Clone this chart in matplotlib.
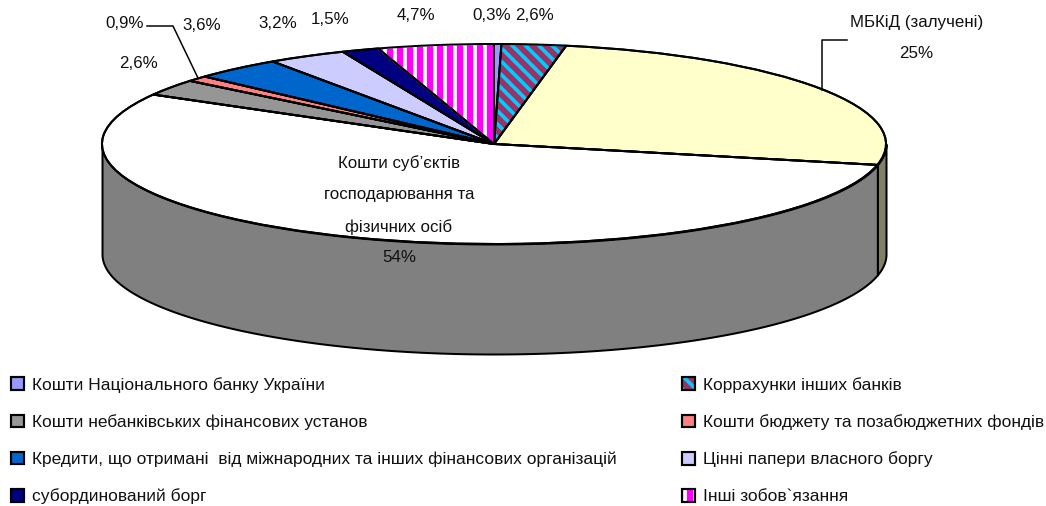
import numpy as np
import matplotlib
matplotlib.use('Agg')
import matplotlib.pyplot as plt
from matplotlib.legend_handler import HandlerTuple
from matplotlib.lines import Line2D
from matplotlib.patches import Patch

plt.rcParams['font.family'] = ['Liberation Sans', 'DejaVu Sans']
plt.rcParams['hatch.linewidth'] = 2.2

W, H = 1046, 506
DPI = 120
FS = 10.1
FS_LEGEND = 10.4

# slices, clockwise from the top
names = ['Кошти Національного банку України', 'Коррахунки інших банків', 'МБКіД (залучені)',
         'Кошти суб’єктів господарювання та фізичних осіб', 'Кошти небанківських фінансових установ',
         'Кошти бюджету та позабюджетних фондів',
         'Кредити, що отримані  від міжнародних та інших фінансових організацій',
         'Цінні папери власного боргу', 'субординований борг', 'Інші зобов`язання']
values = [0.3, 2.6, 25, 54, 2.6, 0.9, 3.6, 3.2, 1.5, 4.7]
colors = ['#9999FF', '#993366', '#FFFFCC', '#FFFFFF', '#969696',
          '#FF8080', '#0066CC', '#CCCCFF', '#000080', '#FF00FF']
legend_left = [0, 4, 6, 8]
legend_right = [1, 5, 7, 9]

# pixel geometry of the tilted pie
cx, cy, rx, ry = 494, 144, 392, 100
depth = 1.1


def fx(px):
    return px / W


def fy(py):
    return 1 - py / H


fig = plt.figure(figsize=(W / DPI, H / DPI), dpi=DPI)
ax = fig.add_axes([0, 0, 1, 1])

wedges, _ = ax.pie(values, colors=colors, startangle=90, counterclock=False,
                   wedgeprops={'linewidth': 1.2, 'edgecolor': 'black'})

# striped slices: the hatch takes the edge colour so the outline goes on top
hatches = {1: ('\\\\\\', '#00CCFF'), 9: ('||', '#FFFFFF')}
for i, (h, c) in hatches.items():
    wedges[i].set_hatch(h)
    wedges[i].set_edgecolor(c)
outline, _ = ax.pie(values, colors=['none'] * len(values), startangle=90, counterclock=False,
                    wedgeprops={'linewidth': 1.2, 'edgecolor': 'black', 'facecolor': 'none'})

# pie forces an equal aspect, squash it to the ellipse
ax.set_aspect('auto')
ax.set_xlim(-cx / rx, (W - cx) / rx)
ax.set_ylim((cy - H) / ry, cy / ry)
ax.axis('off')

# side wall, only the front part is seen
edges = np.cumsum(values) / np.sum(values) * 2 * np.pi


def wall(t0, t1, color):
    t = np.linspace(t0, t1, 200)
    x = np.sin(t)
    y = np.cos(t)
    ax.fill_between(x, y, y - depth, facecolor=color, edgecolor='black', linewidth=1.2, zorder=0)


wall(np.pi / 2, edges[2], '#808066')
wall(edges[2], 1.5 * np.pi, '#808080')

# value labels
pct = [f'{v}%'.replace('.', ',') for v in values]
label_pos = [(492, 15), (535, 15), (916, 53), (399, 258), (139, 64),
             (125, 23), (202, 26), (278, 23), (330, 19), (416, 16)]
for s, (px, py) in zip(pct, label_pos):
    fig.text(fx(px), fy(py), s, ha='center', va='center', fontsize=FS, color='#111111')

fig.text(fx(917), fy(22), names[2], ha='center', va='center', fontsize=FS, color='#111111')
subject_lines = ['Кошти суб’єктів', 'господарювання та', 'фізичних осіб']
for s, py in zip(subject_lines, [163, 195, 227]):
    fig.text(fx(399), fy(py), s, ha='center', va='center', fontsize=FS, color='#111111')

# leader lines
for xs, ys in [([147, 173, 198], [26, 26, 78]), ([847, 822, 822], [40, 40, 90])]:
    fig.add_artist(Line2D([fx(v) for v in xs], [fy(v) for v in ys], color='black', linewidth=0.9))


def legend_handle(i):
    border = Patch(facecolor='none', edgecolor='black', linewidth=1.3)
    if i in hatches:
        h, c = hatches[i]
        return (Patch(facecolor=colors[i], edgecolor=c, hatch=h, linewidth=0), border)
    return (Patch(facecolor=colors[i], edgecolor='none'), border)


def add_legend(idx, px):
    handles = [legend_handle(i) for i in idx]
    leg = fig.legend(handles, [names[i] for i in idx], loc='center left',
                     bbox_to_anchor=(fx(px), fy(440.5)), frameon=False, fontsize=FS_LEGEND,
                     handlelength=0.75, handleheight=0.75, handletextpad=0.45,
                     labelspacing=1.24, borderpad=0, borderaxespad=0, labelcolor='#111111',
                     handler_map={tuple: HandlerTuple(ndivide=1, pad=0)})
    return leg


add_legend(legend_left, 11)
add_legend(legend_right, 682)

fig.savefig('out.png', dpi=DPI)
